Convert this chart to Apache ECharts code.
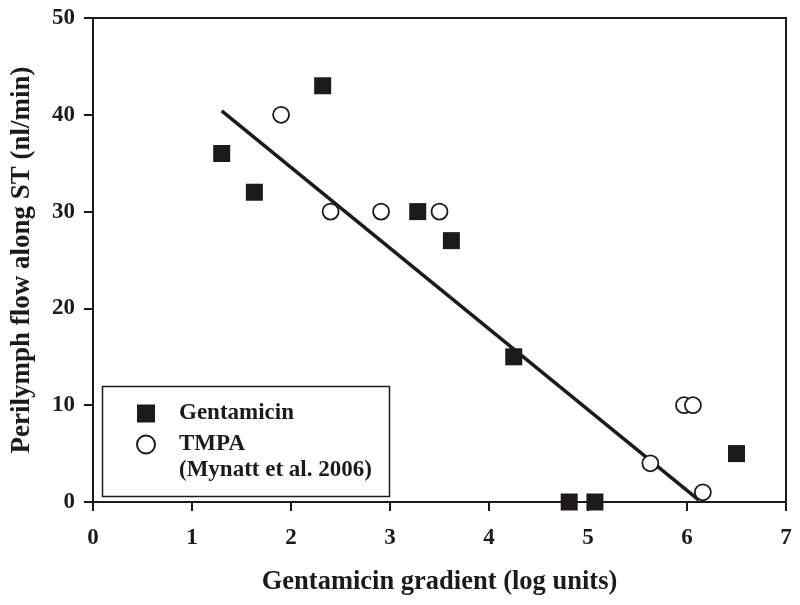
<!DOCTYPE html>
<html>
<head>
<meta charset="utf-8">
<script src="https://cdn.jsdelivr.net/npm/echarts@6/dist/echarts.min.js"></script>
<style>
  html, body { margin: 0; padding: 0; background: #fff; }
  #chart { width: 800px; height: 605px; }
</style>
</head>
<body>
<div id="chart"></div>
<script>
// values
const gentamicin = [
  [1.30, 36], [1.63, 32], [2.32, 43], [3.28, 30], [3.62, 27],
  [4.25, 15], [4.81, 0], [5.07, 0], [6.50, 5]
];
const tmpa = [
  [1.90, 40], [2.40, 30], [2.91, 30], [3.50, 30],
  [5.63, 4], [5.97, 10], [6.06, 10], [6.16, 1]
];
// regression line end points
const fitLine = [[1.30, 40.4], [6.12, 0.2]];

const ink = '#1c1a1b';
const font = '"Liberation Serif", "Times New Roman", serif';

const chart = echarts.init(document.getElementById('chart'));

chart.setOption({
  animation: false,
  backgroundColor: '#fff',
  grid: {
    left: 93, right: 14, top: 18, bottom: 103,
    show: true, borderColor: ink, borderWidth: 2
  },
  xAxis: {
    type: 'value', min: 0, max: 7, interval: 1,
    name: 'Gentamicin gradient (log units)',
    nameLocation: 'middle', nameGap: 67,
    nameTextStyle: { fontFamily: font, fontWeight: 'bold', fontSize: 26.5, color: ink },
    axisLine: { onZero: false, lineStyle: { color: ink, width: 2 } },
    axisTick: { length: 9, lineStyle: { color: ink, width: 2 } },
    axisLabel: { margin: 25, fontFamily: font, fontWeight: 'bold', fontSize: 23, color: ink },
    splitLine: { show: false }
  },
  yAxis: {
    type: 'value', min: 0, max: 50, interval: 10,
    name: 'Perilymph flow along ST (nl/min)',
    nameLocation: 'middle', nameGap: 57,
    nameTextStyle: { fontFamily: font, fontWeight: 'bold', fontSize: 27, color: ink },
    axisLine: { lineStyle: { color: ink, width: 2 } },
    axisTick: { length: 9, lineStyle: { color: ink, width: 2 } },
    axisLabel: { margin: 18, fontFamily: font, fontWeight: 'bold', fontSize: 23, color: ink },
    splitLine: { show: false }
  },
  legend: {
    orient: 'vertical',
    left: 131, top: 397,
    itemGap: 8, itemWidth: 18, itemHeight: 18,
    data: ['Gentamicin', 'TMPA'],
    textStyle: {
      fontFamily: font, fontWeight: 'bold', fontSize: 23, lineHeight: 22,
      color: ink, padding: [0, 0, 0, 19]
    }
  },
  graphic: [
    {
      type: 'rect', left: 100, top: 384,
      shape: { width: 287, height: 110 },
      style: { fill: 'none', stroke: ink, lineWidth: 1.5 }
    },
    {
      type: 'text', x: 179, y: 470,
      style: {
        text: '(Mynatt et al. 2006)', font: 'bold 23px ' + font,
        fill: ink, verticalAlign: 'middle'
      }
    }
  ],
  series: [
    {
      name: 'Fit', type: 'line', data: fitLine,
      symbol: 'none', lineStyle: { color: ink, width: 3.5 }, z: 1
    },
    {
      name: 'Gentamicin', type: 'scatter', data: gentamicin,
      symbol: 'rect', symbolSize: 17,
      itemStyle: { color: ink, opacity: 1 }, z: 3
    },
    {
      name: 'TMPA', type: 'scatter', data: tmpa,
      symbol: 'circle', symbolSize: 16,
      itemStyle: { color: '#fff', borderColor: ink, borderWidth: 1.8, opacity: 1 }, z: 3
    }
  ]
});
</script>
</body>
</html>
